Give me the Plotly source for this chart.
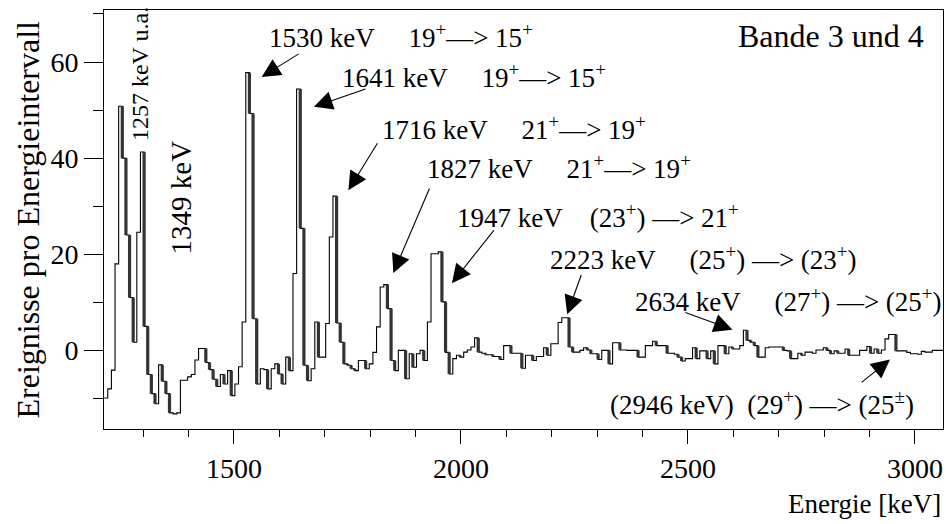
import numpy as np
import plotly.graph_objects as go

# ---- data -------------------------------------------------------------
bin_start = 1214.0      # keV, lower edge of first bin
bin_width = 8.0         # keV
counts = [
    -9.9, -8.0, -4.1, 18.0, 50.8, 40.0, 24.0, 11.0, 1.7, 24.6,
    41.3, 5.0, -5.0, -9.0, -11.1, -3.0, -6.4, -9.0, -13.0, -13.2,
    -13.0, -6.2, -6.2, -5.5, -5.0, -2.0, 0.4, 0.4, -2.5, -4.0,
    -6.0, -7.5, -5.0, -7.0, -4.2, -9.4, -7.0, -3.4, 5.9, 57.8,
    49.3, 6.6, -7.0, -3.8, -4.0, -8.0, -3.8, -2.8, -4.9, -7.0,
    -1.4, -4.2, 16.0, 54.4, 25.4, -3.1, -6.3, -3.8, 5.9, -1.4,
    -1.4, 5.6, 23.6, 32.1, 5.7, 1.7, -2.8, -3.1, -3.8, -4.2,
    -2.1, -2.1, -3.8, -2.8, -0.4, 4.9, 13.2, 13.7, 8.7, -2.1,
    -4.2, 0.0, 0.0, -5.9, -0.7, -3.5, -0.7, 0.0, -2.1, 5.9,
    20.1, 20.1, 20.5, 10.1, -0.4, -4.9, -1.7, -1.0, -1.4, -0.35,
    0.1, 0.7, 2.6, -0.35, -0.6, -0.9, -0.9, -1.25, -1.25, -1.9,
    1.0, 1.0, -0.6, -0.6, -0.6, -3.7, -1.0, -1.0, -2.1, -1.25,
    -1.25, 0.55, -1.0, 1.4, 1.4, 5.8, 6.8, 6.8, 0.7, -0.35,
    -0.35, 0.0, 0.55, 0.1, -0.7, -0.7, -1.9, 0.0, 0.0, -2.8,
    1.6, 1.6, 0.1, 0.1, 0.0, 0.0, 0.0, -1.4, -1.4, 1.0,
    1.0, 1.9, 1.0, 1.0, 1.0, -0.6, -0.6, -0.8, -1.4, -2.2,
    -1.7, -1.7, 0.55, -1.7, -0.1, -0.1, -1.7, -0.1, -2.8, 1.0,
    1.0, -0.7, 0.7, 0.3, 0.3, 1.0, 4.2, 2.1, 1.7, 1.0,
    -1.4, -1.4, 0.55, 0.7, 0.7, 0.7, 0.7, 0.0, -0.1, -1.7,
    -1.7, -0.6, -1.0, -0.35, -0.35, -0.6, 0.1, 0.1, 0.55, 0.0,
    -0.7, -0.1, -0.6, -0.6, 0.3, -1.0, -1.0, -1.0, 0.0, 0.0,
    0.8, -0.6, 0.3, -0.6, 0.1, 2.4, 3.3, 3.3, -0.1, -0.1,
    -0.1, -0.4, -0.7, -0.7, -0.8, -0.2, -0.35, -0.35, 0.0, 0.0,
    0.0,
]
x_ticks = [1500, 2000, 2500, 3000]
y_ticks = [0, 20, 40, 60]

G5 = "&nbsp;" * 5
G4 = "&nbsp;" * 4
G2 = "&nbsp;" * 2
# peak labels: (text, text energy, text y, arrow tail E, tail y, head E, head y)
labels = [
    ("1530 keV" + G5 + "19<sup>+</sup>—> 15<sup>+</sup>", 1573, 65.4, 1646, 61.9, 1561, 56.9),
    ("1641 keV" + G5 + "19<sup>+</sup>—> 15<sup>+</sup>", 1734, 57.1, 1793, 54.5, 1676, 50.7),
    ("1716 keV" + G5 + "21<sup>+</sup>—> 19<sup>+</sup>", 1822, 46.3, 1818, 43.4, 1752, 33.3),
    ("1827 keV" + G5 + "21<sup>+</sup>—> 19<sup>+</sup>", 1921, 38.1, 1932, 34.0, 1851, 16.1),
    ("1947 keV" + G4 + "(23<sup>+</sup>) —> 21<sup>+</sup>", 1987, 27.9, 2075, 25.3, 1980, 14.0),
    ("2223 keV" + G5 + "(25<sup>+</sup>) —> (23<sup>+</sup>)", 2192, 19.2, 2266, 16.0, 2234, 7.5),
    ("2634 keV" + G5 + "(27<sup>+</sup>) —> (25<sup>+</sup>)", 2379, 10.4, 2491, 8.0, 2598, 4.3),
    ("(2946 keV)" + G2 + "(29<sup>+</sup>) —> (25<sup>±</sup>)", 2324, -11.0, 2879, -6.9, 2945, -1.9),
]

# ---- build --------------------------------------------------------------
n = len(counts)
edges = bin_start + bin_width * np.arange(n + 1)
ys = list(counts) + [counts[-1]]

# thick falling edges
fx, fy = [], []
for i in range(n - 1):
    if counts[i + 1] < counts[i] - 0.3:
        fx += [edges[i + 1], edges[i + 1], None]
        fy += [counts[i], counts[i + 1], None]

FONT = "Liberation Serif"
fig = go.Figure()
fig.add_trace(go.Scatter(x=edges, y=ys, mode="lines", line_shape="hv",
                         line=dict(color="black", width=1.1), hoverinfo="skip"))
fig.add_trace(go.Scatter(x=fx, y=fy, mode="lines",
                         line=dict(color="#333333", width=3.2), hoverinfo="skip"))

for (txt, tx, ty, ax, ay, hx, hy) in labels:
    fig.add_annotation(x=tx, y=ty, xref="x", yref="y", text=txt, showarrow=False,
                       xanchor="left", yanchor="middle",
                       font=dict(family=FONT, size=27, color="black"))
    fig.add_annotation(x=hx, y=hy, ax=ax, ay=ay, xref="x", yref="y",
                       axref="x", ayref="y", text="", showarrow=True,
                       arrowhead=2, arrowsize=3.4, arrowwidth=1.1, arrowcolor="black")

fig.add_annotation(x=1293, y=57.5, xref="x", yref="y", text="1257 keV u.a.",
                   textangle=-90, showarrow=False,
                   font=dict(family=FONT, size=24, color="black"))
fig.add_annotation(x=1384, y=31.9, xref="x", yref="y", text="1349 keV",
                   textangle=-90, showarrow=False,
                   font=dict(family=FONT, size=29, color="black"))
fig.add_annotation(x=2606, y=65.4, xref="x", yref="y", text="Bande 3 und 4",
                   xanchor="left", yanchor="middle", showarrow=False,
                   font=dict(family=FONT, size=32, color="black"))
fig.add_annotation(x=0.9995, y=-0.178, xref="paper", yref="paper", text="Energie [keV]",
                   xanchor="right", yanchor="middle", showarrow=False,
                   font=dict(family=FONT, size=27, color="black"))
fig.add_annotation(x=-0.0906, y=0.5, xref="paper", yref="paper",
                   text="Ereignisse pro Energieintervall", textangle=-90,
                   xanchor="center", yanchor="middle",
                   showarrow=False, font=dict(family=FONT, size=32, color="black"))

fig.update_layout(
    width=946, height=524, margin=dict(l=104, r=3, t=10, b=95),
    paper_bgcolor="white", plot_bgcolor="white", showlegend=False,
    font=dict(family=FONT, color="black"),
)
fig.update_xaxes(range=[1213.7, 3061.7], tickvals=x_ticks, ticks="outside", ticklen=14,
                 tickwidth=1, tickcolor="black", showgrid=False, zeroline=False,
                 showline=True, linecolor="black", linewidth=1, mirror=True,
                 tickfont=dict(family=FONT, size=28),
                 minor=dict(dtick=100, tick0=0, ticks="outside", ticklen=7,
                            tickcolor="black", tickwidth=1, showgrid=False))
fig.update_yaxes(range=[-16.35, 70.83], tickvals=y_ticks, ticks="outside", ticklen=19,
                 tickwidth=1, tickcolor="black", showgrid=False, zeroline=False,
                 showline=True, linecolor="black", linewidth=1, mirror=True,
                 tickfont=dict(family=FONT, size=28),
                 minor=dict(dtick=10, tick0=0, ticks="outside", ticklen=10,
                            tickcolor="black", tickwidth=1, showgrid=False))

fig.write_html("out.html")
